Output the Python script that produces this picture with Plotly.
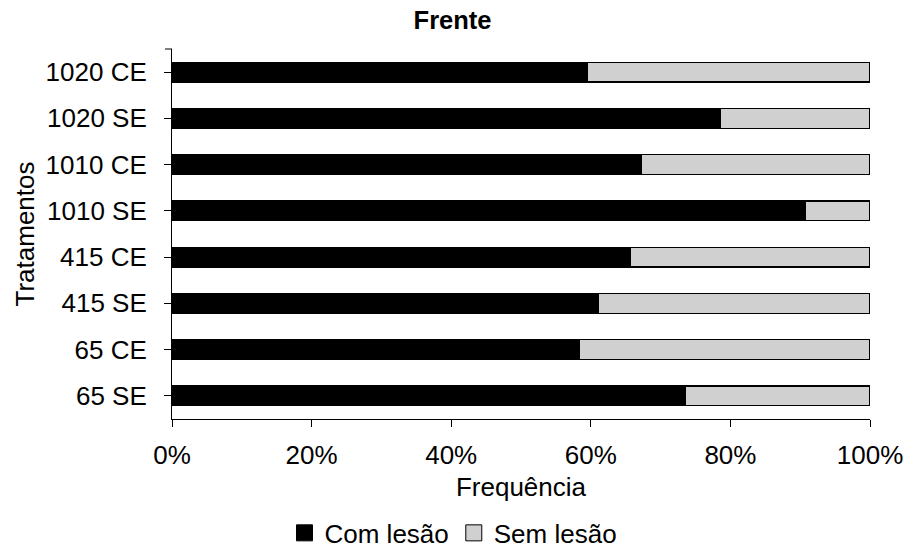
import plotly.graph_objects as go

# Treatments, listed bottom to top as drawn on the category axis
tratamentos = ["65 SE", "65 CE", "415 SE", "415 CE", "1010 SE", "1010 CE", "1020 SE", "1020 CE"]
# Share of samples with lesion (%)
com_lesao = [73.5, 58.4, 61.1, 65.7, 90.7, 67.2, 78.5, 59.5]
# Share of samples without lesion (%)
sem_lesao = [100 - v for v in com_lesao]

x_ticks = [0, 20, 40, 60, 80, 100]
x_labels = ["0%", "20%", "40%", "60%", "80%", "100%"]

FONT = "Liberation Sans, Arial, sans-serif"
FS = 26
BLACK = "#000000"
GRAY = "#D0D0D0"

fig = go.Figure()
fig.add_trace(go.Bar(
    y=tratamentos, x=com_lesao, orientation="h", name="Com lesão",
    marker=dict(color=BLACK, line=dict(color=BLACK, width=1)),
    showlegend=False,
))
fig.add_trace(go.Bar(
    y=tratamentos, x=sem_lesao, orientation="h", name="Sem lesão",
    marker=dict(color=GRAY, line=dict(color=BLACK, width=1.3)),
    showlegend=False,
))

# legend entries with larger square swatches
for name, color in [("Com lesão", BLACK), ("Sem lesão", GRAY)]:
    fig.add_trace(go.Scatter(
        x=[None], y=[None], mode="markers", name=name,
        marker=dict(symbol="square", size=16, color=color,
                    line=dict(color=BLACK, width=1)),
    ))

fig.update_layout(
    width=907, height=554,
    barmode="stack", bargap=0.57,
    plot_bgcolor="white", paper_bgcolor="white",
    font=dict(family=FONT, size=FS, color=BLACK),
    margin=dict(l=172, r=37, t=49, b=135, autoexpand=False),
    title=dict(text="<b>Frente</b>", x=0.499, xref="container", xanchor="center",
               y=0.963, yref="container", yanchor="middle",
               font=dict(family=FONT, size=25.5, color=BLACK)),
    showlegend=True,
    legend=dict(orientation="h", x=0.5, xref="container", xanchor="center",
                y=0.038, yref="container", yanchor="middle",
                font=dict(family=FONT, size=FS), traceorder="normal",
                itemwidth=30, itemsizing="trace", bgcolor="rgba(0,0,0,0)"),
)

fig.update_xaxes(
    range=[0, 100], tickvals=x_ticks, ticktext=x_labels,
    showline=True, linecolor=BLACK, linewidth=1,
    ticks="outside", ticklen=7, tickcolor=BLACK,
    showgrid=False, zeroline=False, automargin=False,
    ticklabelstandoff=6, tickfont=dict(size=FS),
    title=dict(text="Frequência", standoff=8, font=dict(size=FS)),
)
fig.update_yaxes(
    categoryorder="array", categoryarray=tratamentos,
    showline=True, linecolor=BLACK, linewidth=1,
    ticks="outside", ticklen=7, tickcolor=BLACK,
    showgrid=False, automargin=False, ticklabelstandoff=12,
    tickfont=dict(size=FS),
    title=dict(text="Tratamentos", standoff=3, font=dict(size=FS)),
)

# small tick at the top end of the category axis
fig.add_shape(type="line", xref="paper", yref="paper",
              x0=-0.01, x1=0, y0=1, y1=1,
              line=dict(color=BLACK, width=1))

fig.write_html("out.html")
